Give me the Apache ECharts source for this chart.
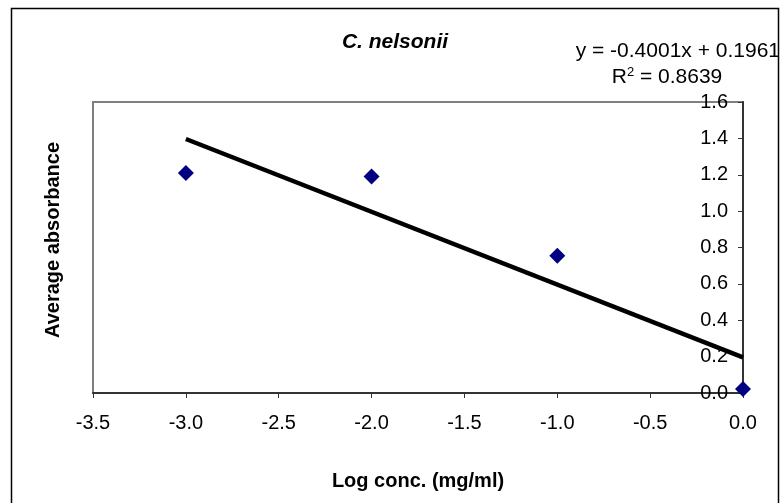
<!DOCTYPE html>
<html><head><meta charset="utf-8">
<script src="https://cdn.jsdelivr.net/npm/echarts@6/dist/echarts.min.js"></script>
<style>html,body{margin:0;padding:0;background:#fff}#c{width:782px;height:503px}</style>
</head><body><div id="c"></div>
<script>
var logConc = [-3, -2, -1, 0];
var absorbance = [1.21, 1.19, 0.755, 0.022];
var trendSlope = [-0.4001];
var trendIntercept = [0.1961];
var trendRange = [-3, 0];
var xTicks = [-3.5, -3.0, -2.5, -2.0, -1.5, -1.0, -0.5, 0.0];
var yTicks = [0.0, 0.2, 0.4, 0.6, 0.8, 1.0, 1.2, 1.4, 1.6];
var chartTitle = 'C. nelsonii';
var eqText = 'y = -0.4001x + 0.1961';
var r2Text = '0.8639';

var pts = logConc.map(function(x,i){return [x, absorbance[i]];});
var trend = trendRange.map(function(x){return [x, trendSlope[0]*x + trendIntercept[0]];});
var F = 'Liberation Sans, Arial, sans-serif';
var chart = echarts.init(document.getElementById('c'));
chart.setOption({
  animation:false,
  title:{text:chartTitle,left:390,top:27,textAlign:'center',textStyle:{fontFamily:F,fontSize:21,fontWeight:'bold',fontStyle:'italic',color:'#000'}},
  grid:{left:93,right:39,top:102,bottom:110},
  xAxis:{type:'value',min:xTicks[0],max:xTicks[xTicks.length-1],interval:0.5,
    name:'Log conc. (mg/ml)',nameLocation:'middle',nameGap:78,
    nameTextStyle:{fontFamily:F,fontSize:20,fontWeight:'bold',color:'#000'},
    axisLine:{onZero:false,lineStyle:{color:'#333',width:2}},
    axisTick:{show:true,length:5,lineStyle:{color:'#333',width:1}},
    axisLabel:{fontFamily:F,fontSize:20,color:'#000',margin:20,formatter:function(v){return v.toFixed(1);}},
    splitLine:{show:false}},
  yAxis:{type:'value',position:'right',min:yTicks[0],max:yTicks[yTicks.length-1],interval:0.2,
    axisLine:{show:true,onZero:false,lineStyle:{color:'#333',width:2}},
    axisTick:{show:true,inside:true,length:5,lineStyle:{color:'#333',width:1}},
    axisLabel:{inside:true,fontFamily:F,fontSize:20,color:'#000',margin:15,formatter:function(v){return v.toFixed(1);}},
    splitLine:{show:false}},
  graphic:[
    {type:'rect',shape:{x:11.5,y:8.5,width:767,height:600},style:{fill:null,stroke:'#000',lineWidth:1.5},z:-1},
    {type:'rect',shape:{x:93,y:102,width:650,height:291},style:{fill:null,stroke:'#808080',lineWidth:2},z:-1},
    {type:'text',x:53,y:240,rotation:Math.PI/2,style:{x:0,y:0,text:'Average absorbance',fontFamily:F,fontSize:20,fontWeight:'bold',fill:'#000',align:'center',verticalAlign:'middle',textAlign:'center',textVerticalAlign:'middle'}},
    {type:'text',style:{x:780,y:51,text:eqText,fontFamily:F,fontSize:21,fill:'#000',align:'right',verticalAlign:'middle',textAlign:'right',textVerticalAlign:'middle'}},
    {type:'text',style:{x:667,y:77,text:'{a|R}{s|2}{a| = '+r2Text+'}',fontFamily:F,fontSize:21,fill:'#000',align:'center',verticalAlign:'middle',textAlign:'center',textVerticalAlign:'middle',
      rich:{a:{fontFamily:F,fontSize:21,fill:'#000'},s:{fontFamily:F,fontSize:13,fill:'#000',verticalAlign:'top',padding:[0,0,10,0]}}}}
  ],
  series:[
    {type:'line',data:trend,symbol:'none',lineStyle:{color:'#000',width:4.5},z:2},
    {type:'scatter',data:pts,symbol:'diamond',symbolSize:16,itemStyle:{color:'#000080',opacity:1},z:3}
  ]
});
</script></body></html>
